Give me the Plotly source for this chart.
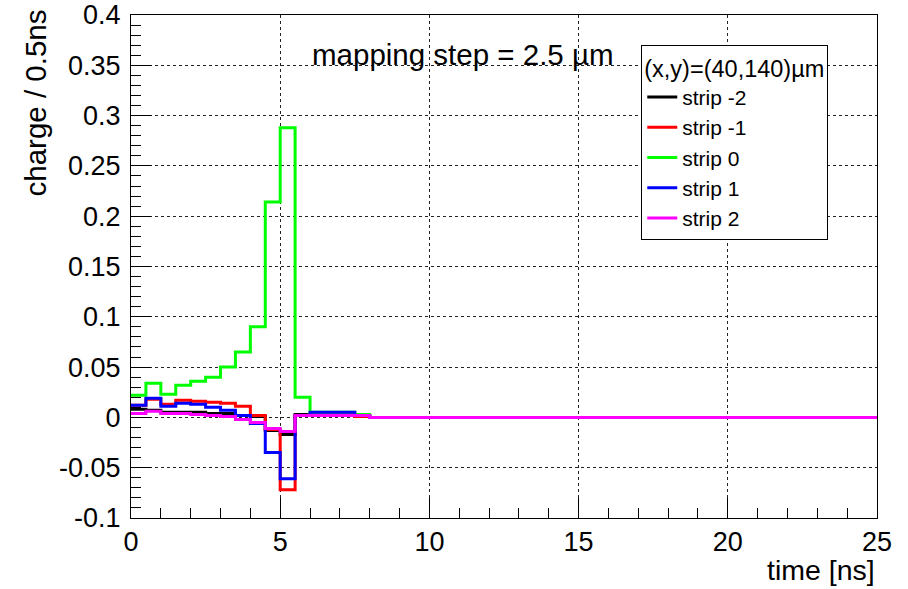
import numpy as np
import plotly.graph_objects as go

# ---------------- data ----------------
time_min = 0.0
time_max = 25.0
bin_width = 0.5

strip_names = ["strip -2", "strip -1", "strip 0", "strip 1", "strip 2"]
strip_colors = ["#000000", "#ff0000", "#00ff00", "#0000ff", "#ff00ff"]

# charge per 0.5 ns bin, 50 bins from 0 to 25 ns
strip_m2 = [0.008, 0.007, 0.005, 0.005, 0.005, 0.004, 0.004, 0.002, 0.001, -0.013,
            -0.017, 0.003, 0.002, 0.002, 0.002, 0.001, 0.0, 0.0, 0.0, 0.0,
            0.0, 0.0, 0.0, 0.0, 0.0, 0.0, 0.0, 0.0, 0.0, 0.0,
            0.0, 0.0, 0.0, 0.0, 0.0, 0.0, 0.0, 0.0, 0.0, 0.0,
            0.0, 0.0, 0.0, 0.0, 0.0, 0.0, 0.0, 0.0, 0.0, 0.0]
strip_m1 = [0.012, 0.018, 0.013, 0.017, 0.016, 0.015, 0.014, 0.011, 0.002, -0.012,
            -0.072, 0.002, 0.003, 0.003, 0.003, 0.001, 0.0, 0.0, 0.0, 0.0,
            0.0, 0.0, 0.0, 0.0, 0.0, 0.0, 0.0, 0.0, 0.0, 0.0,
            0.0, 0.0, 0.0, 0.0, 0.0, 0.0, 0.0, 0.0, 0.0, 0.0,
            0.0, 0.0, 0.0, 0.0, 0.0, 0.0, 0.0, 0.0, 0.0, 0.0]
strip_0 = [0.022, 0.034, 0.023, 0.032, 0.036, 0.040, 0.050, 0.065, 0.090, 0.214,
           0.288, 0.020, 0.005, 0.005, 0.005, 0.003, 0.0, 0.0, 0.0, 0.0,
           0.0, 0.0, 0.0, 0.0, 0.0, 0.0, 0.0, 0.0, 0.0, 0.0,
           0.0, 0.0, 0.0, 0.0, 0.0, 0.0, 0.0, 0.0, 0.0, 0.0,
           0.0, 0.0, 0.0, 0.0, 0.0, 0.0, 0.0, 0.0, 0.0, 0.0]
strip_p1 = [0.012, 0.019, 0.011, 0.014, 0.013, 0.010, 0.007, 0.002, -0.006, -0.035,
            -0.061, 0.002, 0.005, 0.005, 0.005, 0.002, 0.0, 0.0, 0.0, 0.0,
            0.0, 0.0, 0.0, 0.0, 0.0, 0.0, 0.0, 0.0, 0.0, 0.0,
            0.0, 0.0, 0.0, 0.0, 0.0, 0.0, 0.0, 0.0, 0.0, 0.0,
            0.0, 0.0, 0.0, 0.0, 0.0, 0.0, 0.0, 0.0, 0.0, 0.0]
strip_p2 = [0.004, 0.006, 0.004, 0.004, 0.003, 0.002, 0.001, -0.002, -0.005, -0.011,
            -0.014, 0.002, 0.002, 0.002, 0.002, 0.002, 0.0, 0.0, 0.0, 0.0,
            0.0, 0.0, 0.0, 0.0, 0.0, 0.0, 0.0, 0.0, 0.0, 0.0,
            0.0, 0.0, 0.0, 0.0, 0.0, 0.0, 0.0, 0.0, 0.0, 0.0,
            0.0, 0.0, 0.0, 0.0, 0.0, 0.0, 0.0, 0.0, 0.0, 0.0]

x_tick_vals = [0, 5, 10, 15, 20, 25]
x_tick_text = ["0", "5", "10", "15", "20", "25"]
y_tick_vals = [-0.1, -0.05, 0, 0.05, 0.1, 0.15, 0.2, 0.25, 0.3, 0.35, 0.4]
y_tick_text = ["-0.1", "-0.05", "0", "0.05", "0.1", "0.15", "0.2", "0.25", "0.3", "0.35", "0.4"]

legend_header = "(x,y)=(40,140)\u00b5m"
note_text = "mapping step = 2.5 \u00b5m"
x_title = "time [ns]"
y_title = "charge / 0.5ns"

# ---------------- figure ----------------
FONT = "Liberation Sans, Arial, sans-serif"
series = [strip_m2, strip_m1, strip_0, strip_p1, strip_p2]
edges = np.arange(time_min, time_max + bin_width / 2, bin_width)

fig = go.Figure()
for name, color, vals in zip(strip_names, strip_colors, series):
    fig.add_trace(go.Scatter(
        x=edges, y=list(vals) + [vals[-1]],
        mode="lines", line_shape="hv",
        line=dict(color=color, width=3),
        name=name,
    ))

axis_common = dict(
    automargin=False,
    showline=True, mirror=True, linecolor="black", linewidth=1,
    ticks="inside", ticklen=20, tickcolor="black", tickwidth=1,
    showgrid=True, gridcolor="#222222", gridwidth=1, griddash="3px,3px",
    zeroline=False,
    ticklabeloverflow="allow",
    tickfont=dict(family=FONT, size=27, color="black"),
)

fig.update_xaxes(
    range=[time_min, time_max], tickmode="array",
    tickvals=x_tick_vals, ticktext=x_tick_text,
    minor=dict(dtick=1, ticklen=10, ticks="inside", tickcolor="black", showgrid=False),
    ticklabelstandoff=0,
    **axis_common,
)
fig.update_yaxes(
    range=[-0.1, 0.4], tickmode="array",
    tickvals=y_tick_vals, ticktext=y_tick_text,
    minor=dict(dtick=0.01, tick0=0, ticklen=10, ticks="inside", tickcolor="black", showgrid=False),
    ticklabelstandoff=4,
    **axis_common,
)

fig.update_layout(
    width=908, height=589,
    margin=dict(l=131, r=31, t=15, b=71, pad=0, autoexpand=False),
    paper_bgcolor="white", plot_bgcolor="white",
    showlegend=True,
    legend=dict(
        x=0.684, y=0.94, xanchor="left", yanchor="top",
        bgcolor="white", bordercolor="black", borderwidth=1,
        font=dict(family=FONT, size=21, color="black"),
        title=dict(text=legend_header, font=dict(family=FONT, size=23.5, color="black")),
        tracegroupgap=0,
    ),
    annotations=[
        dict(text=note_text, xref="paper", yref="paper", x=0.445, y=0.922,
             xanchor="center", yanchor="middle", showarrow=False,
             font=dict(family=FONT, size=29.5, color="black")),
        dict(text=x_title, xref="paper", yref="paper", x=1.0, y=-0.103,
             xanchor="right", yanchor="middle", showarrow=False,
             font=dict(family=FONT, size=28.5, color="black")),
        dict(text=y_title, xref="paper", yref="paper", x=-0.1287, y=1.016,
             xanchor="center", yanchor="top", showarrow=False, textangle=-90,
             font=dict(family=FONT, size=29.5, color="black")),
    ],
)

# remove the browser's default 8px body margin so the figure fills the window
fig.write_html(
    "out.html",
    config={"displayModeBar": False},
    post_script="document.body.style.margin='0';document.body.style.overflow='hidden';",
)
